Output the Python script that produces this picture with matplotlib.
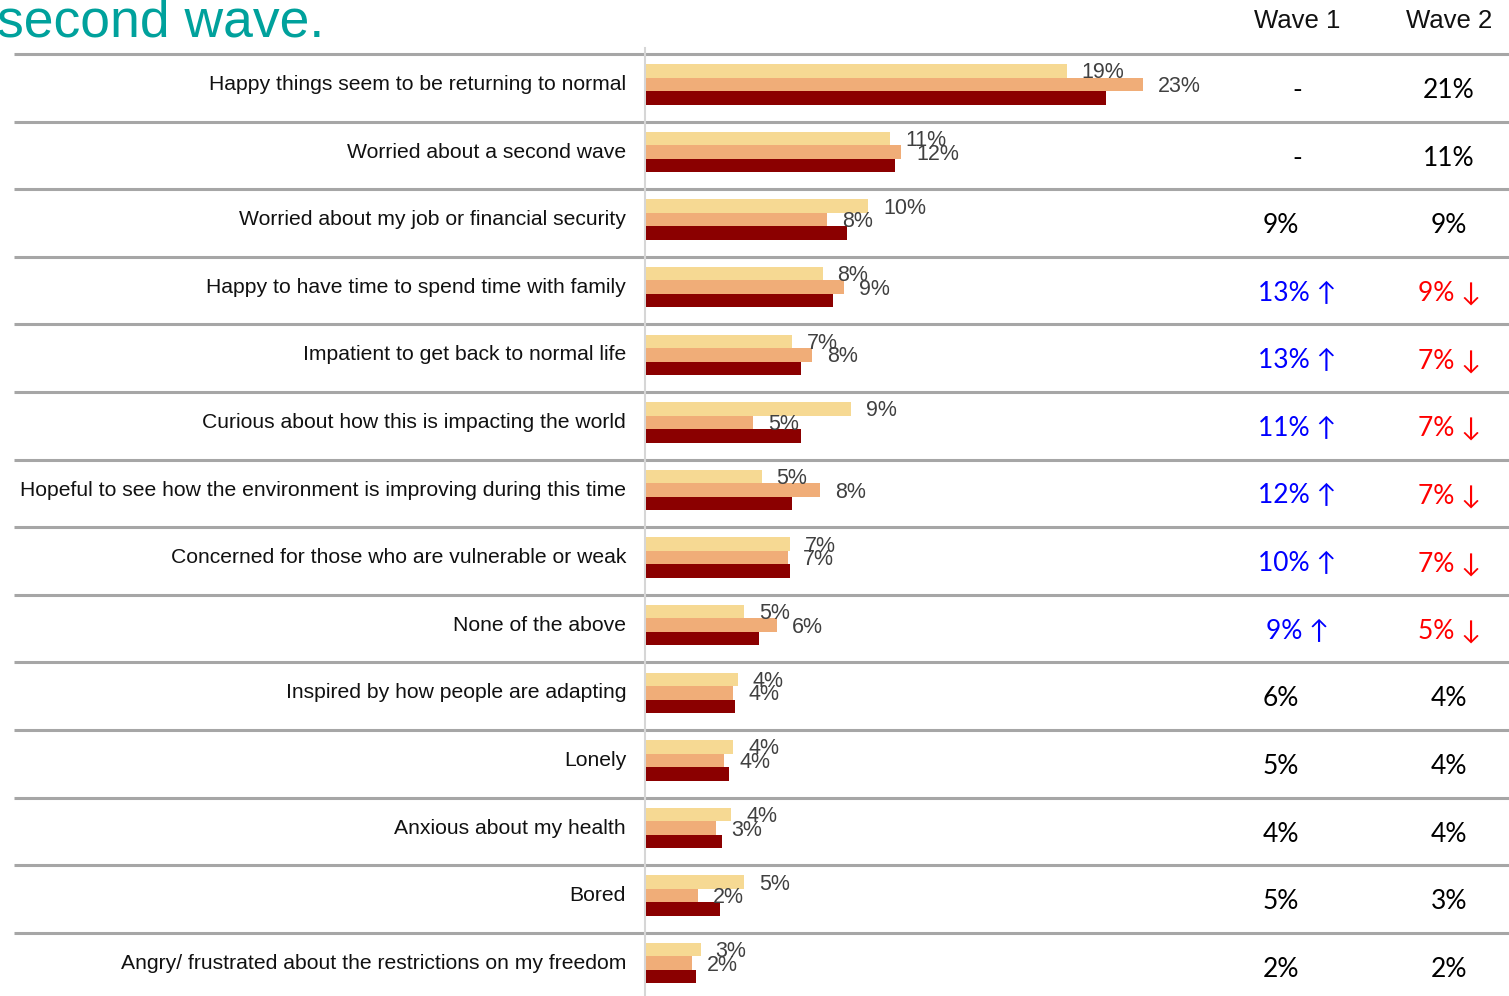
import matplotlib.pyplot as plt

categories = [
    "Happy things seem to be returning to normal",
    "Worried about a second wave",
    "Worried about my job or financial security",
    "Happy to have time to spend time with family",
    "Impatient to get back to normal life",
    "Curious about how this is impacting the world",
    "Hopeful to see how the environment is improving during this time",
    "Concerned for those who are vulnerable or weak",
    "None of the above",
    "Inspired by how people are adapting",
    "Lonely",
    "Anxious about my health",
    "Bored",
    "Angry/ frustrated about the restrictions on my freedom",
]
yellow_vals = [19.3, 11.2, 10.2, 8.1, 6.7, 9.4, 5.3, 6.6, 4.5, 4.2, 4.0, 3.9, 4.5, 2.5]
orange_vals = [22.8, 11.7, 8.3, 9.1, 7.6, 4.9, 8.0, 6.5, 6.0, 4.0, 3.6, 3.2, 2.4, 2.1]
red_vals = [21.1, 11.4, 9.2, 8.6, 7.1, 7.1, 6.7, 6.6, 5.2, 4.1, 3.8, 3.5, 3.4, 2.3]
yellow_labels = ["19%", "11%", "10%", "8%", "7%", "9%", "5%", "7%", "5%", "4%", "4%", "4%", "5%", "3%"]
orange_labels = ["23%", "12%", "8%", "9%", "8%", "5%", "8%", "7%", "6%", "4%", "4%", "3%", "2%", "2%"]
wave1 = ["-", "-", "9%", "13% ↑", "13% ↑", "11% ↑", "12% ↑", "10% ↑", "9% ↑", "6%", "5%", "4%", "5%", "2%"]
wave2 = ["21%", "11%", "9%", "9% ↓", "7% ↓", "7% ↓", "7% ↓", "7% ↓", "5% ↓", "4%", "4%", "4%", "3%", "2%"]

W, H = 1509, 996
fig = plt.figure(figsize=(W / 100, H / 100), dpi=100)

# overlay in pixel coordinates for lines and text
ov = fig.add_axes([0, 0, 1, 1])
ov.set_xlim(0, W)
ov.set_ylim(H, 0)
ov.axis("off")

row_top = 54
pitch = 67.6
n = len(categories)

# bar axes
bx = fig.add_axes([646 / W, (H - (row_top + pitch * n)) / H, (W - 646) / W, pitch * n / H])
bx.set_xlim(0, (W - 646) / 21.8)
bx.set_ylim(n, 0)
bx.axis("off")

ys = [i + 0.45 for i in range(n)]
h = 0.2
bx.barh([y - h for y in ys], yellow_vals, height=h, color="#F6D993")
bx.barh(ys, orange_vals, height=h, color="#F0AD78")
bx.barh([y + h for y in ys], red_vals, height=h, color="#8B0000")
off = 15 / 21.8
for y, v, lab in zip(ys, yellow_vals, yellow_labels):
    bx.text(v + off, y - h + 0.03, lab, va="center", ha="left", fontsize=15.5,
            color="#404040", family="Liberation Sans")
for y, v, lab in zip(ys, orange_vals, orange_labels):
    bx.text(v + off, y + 0.03, lab, va="center", ha="left", fontsize=15.5,
            color="#404040", family="Liberation Sans")

# separators
for i in range(n):
    yy = row_top + pitch * i
    ov.plot([14, W], [yy, yy], color="#A6A6A6", lw=2.2, solid_capstyle="butt")
ov.plot([645, 645], [48, H], color="#D6D6D6", lw=1.5)

# text columns
for i, cat in enumerate(categories):
    yc = row_top + pitch * (i + 0.45)
    ov.text(626, yc, cat, ha="right", va="center", fontsize=15.2,
            color="#111111", family="Liberation Sans")
    s1 = wave1[i]
    c1 = "#0000FF" if "↑" in s1 else "black"
    x1 = 1297 if ("↑" in s1 or s1 == "-") else 1281
    ov.text(x1, yc + 6, s1, ha="center", va="center", fontsize=19, color=c1,
            family=["Lato", "DejaVu Sans"])
    s2 = wave2[i]
    c2 = "#FF0000" if "↓" in s2 else "black"
    ov.text(1449, yc + 6, s2, ha="center", va="center", fontsize=19, color=c2,
            family=["Lato", "DejaVu Sans"])

ov.text(1297, 21, "Wave 1", ha="center", va="center", fontsize=18.5,
        color="#111111", family="Liberation Sans")
ov.text(1449, 21, "Wave 2", ha="center", va="center", fontsize=18.5,
        color="#111111", family="Liberation Sans")
ov.text(-3, 36, "second wave.", ha="left", va="baseline", fontsize=38.5,
        color="#00A19C", family="Liberation Sans")

fig.savefig("out.png", dpi=100)
